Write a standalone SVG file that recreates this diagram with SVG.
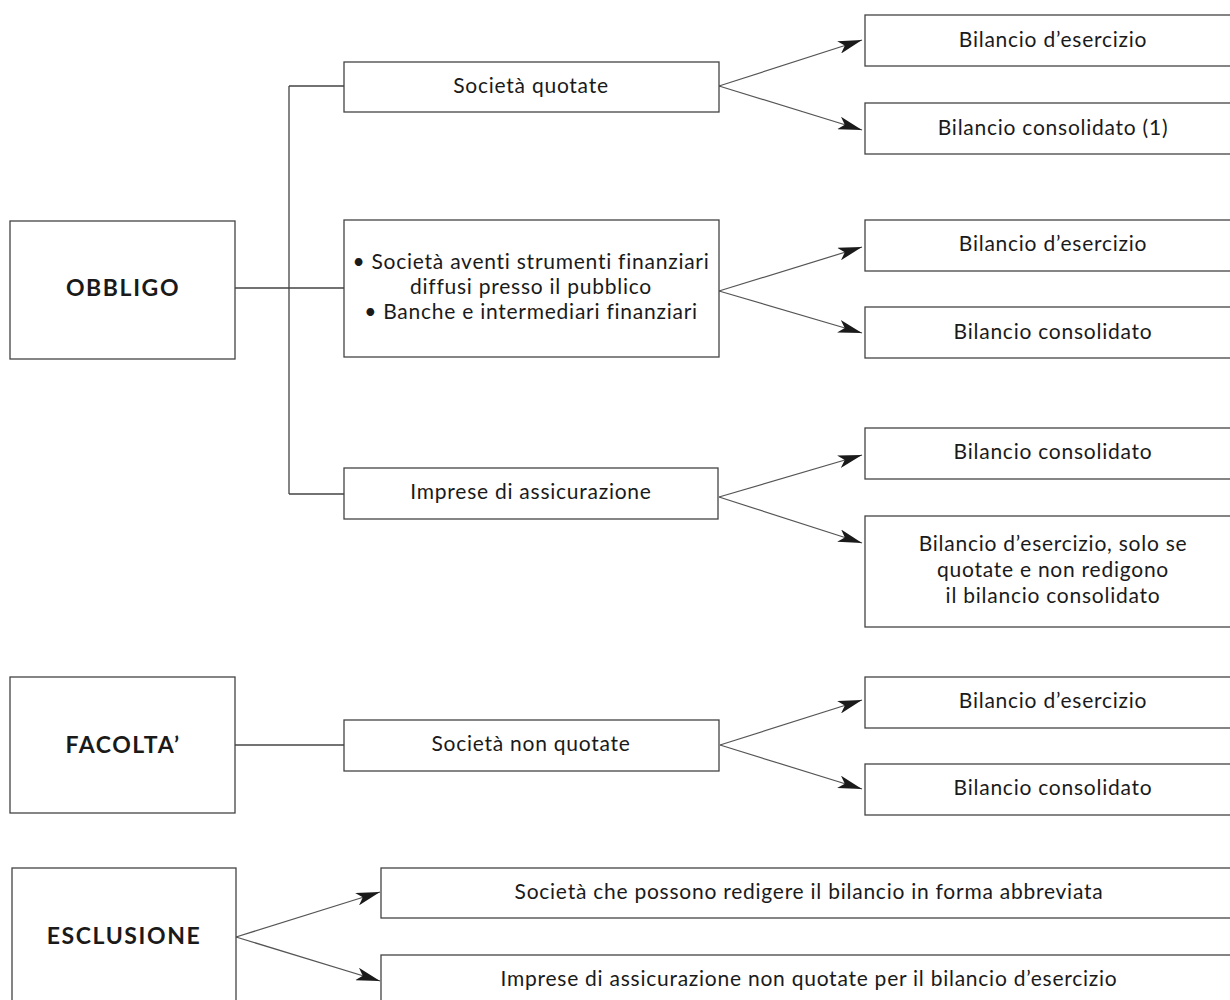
<svg xmlns="http://www.w3.org/2000/svg" width="1230" height="1000" viewBox="0 0 1230 1000">
<defs>
<marker id="arr" markerWidth="26" markerHeight="13" refX="24" refY="6.5" orient="auto" markerUnits="userSpaceOnUse">
<path d="M0,0 L24,6.5 L0,13 L6,6.5 Z" fill="#1a1a1a"/>
</marker>
<style>
.box{fill:#fff;stroke:#444;stroke-width:1.3}
.t{font-family:Lato,"Liberation Sans",sans-serif;font-size:21px;fill:#1a1a1a;text-anchor:middle;letter-spacing:0.75px}
.b{font-family:Lato,"Liberation Sans",sans-serif;font-size:23px;font-weight:bold;fill:#1a1a1a;text-anchor:middle;letter-spacing:1.6px}
.ln{fill:none;stroke:#444;stroke-width:1.3}
.ar{fill:none;stroke:#555;stroke-width:1.2;marker-end:url(#arr)}
</style>
</defs>
<rect width="1230" height="1000" fill="#fff"/>
<g id="connectors">
<path class="ln" d="M235,288 H344 M289,86 V494 M289,86 H344 M289,494 H344"/>
<path class="ln" d="M235,745 H344"/>
<line class="ar" x1="719" y1="86" x2="862" y2="40"/>
<line class="ar" x1="719" y1="86" x2="862" y2="130"/>
<line class="ar" x1="719" y1="291" x2="862" y2="247"/>
<line class="ar" x1="719" y1="291" x2="862" y2="333"/>
<line class="ar" x1="719" y1="497" x2="862" y2="455"/>
<line class="ar" x1="719" y1="497" x2="862" y2="543"/>
<line class="ar" x1="720" y1="745" x2="862" y2="700"/>
<line class="ar" x1="720" y1="745" x2="862" y2="789"/>
<line class="ar" x1="236" y1="937" x2="380" y2="892"/>
<line class="ar" x1="236" y1="937" x2="380" y2="981"/>
</g>
<g id="obbligo"><rect class="box" x="10" y="221" width="225" height="138"/><text class="b" x="123" y="296">OBBLIGO</text></g>
<g id="facolta"><rect class="box" x="10" y="677" width="225" height="136"/><text class="b" x="123" y="753">FACOLTA’</text></g>
<g id="esclusione"><rect class="box" x="12" y="868" width="224" height="145"/><text class="b" x="124" y="944">ESCLUSIONE</text></g>
<g id="quotate"><rect class="box" x="344" y="62" width="375" height="50"/><text class="t" x="531" y="93">Società quotate</text></g>
<g id="strumenti"><rect class="box" x="344" y="220" width="375" height="137"/>
<text class="t" x="531" y="269">• Società aventi strumenti finanziari</text>
<text class="t" x="531" y="294">diffusi presso il pubblico</text>
<text class="t" x="531" y="319">• Banche e intermediari finanziari</text></g>
<g id="assicurazione"><rect class="box" x="344" y="468" width="374" height="51"/><text class="t" x="531" y="499">Imprese di assicurazione</text></g>
<g id="nonquotate"><rect class="box" x="344" y="720" width="375" height="51"/><text class="t" x="531" y="751">Società non quotate</text></g>
<g id="q-esercizio"><rect class="box" x="865" y="15" width="376" height="51"/><text class="t" x="1053" y="47">Bilancio d’esercizio</text></g>
<g id="q-consolidato"><rect class="box" x="865" y="103" width="376" height="51"/><text class="t" x="1053" y="135">Bilancio consolidato (1)</text></g>
<g id="s-esercizio"><rect class="box" x="865" y="220" width="376" height="51"/><text class="t" x="1053" y="251">Bilancio d’esercizio</text></g>
<g id="s-consolidato"><rect class="box" x="865" y="307" width="376" height="51"/><text class="t" x="1053" y="339">Bilancio consolidato</text></g>
<g id="a-consolidato"><rect class="box" x="865" y="428" width="376" height="51"/><text class="t" x="1053" y="459">Bilancio consolidato</text></g>
<g id="a-esercizio"><rect class="box" x="865" y="516" width="376" height="111"/>
<text class="t" x="1053" y="551">Bilancio d’esercizio, solo se</text>
<text class="t" x="1053" y="577">quotate e non redigono</text>
<text class="t" x="1053" y="603">il bilancio consolidato</text></g>
<g id="n-esercizio"><rect class="box" x="865" y="677" width="376" height="51"/><text class="t" x="1053" y="708">Bilancio d’esercizio</text></g>
<g id="n-consolidato"><rect class="box" x="865" y="764" width="376" height="51"/><text class="t" x="1053" y="795">Bilancio consolidato</text></g>
<g id="abbreviata"><rect class="box" x="381" y="868" width="856" height="50"/><text class="t" x="809" y="899">Società che possono redigere il bilancio in forma abbreviata</text></g>
<g id="assic-nonquotate"><rect class="box" x="381" y="955" width="856" height="55"/><text class="t" x="809" y="986">Imprese di assicurazione non quotate per il bilancio d’esercizio</text></g>
</svg>
